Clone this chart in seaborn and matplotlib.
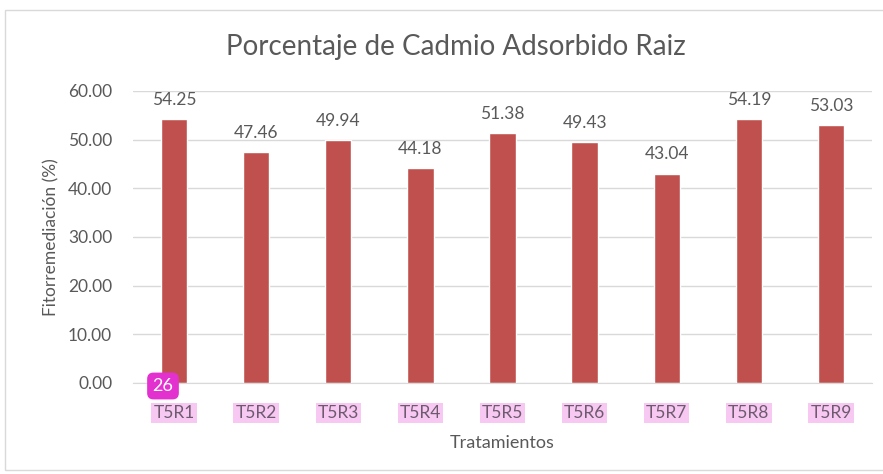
import matplotlib
matplotlib.use('Agg')
import matplotlib.pyplot as plt
import seaborn as sns
import pandas as pd
from matplotlib.patches import Rectangle

tratamientos = ['T5R1', 'T5R2', 'T5R3', 'T5R4', 'T5R5', 'T5R6', 'T5R7', 'T5R8', 'T5R9']
fitorremediacion = [54.25, 47.46, 49.94, 44.18, 51.38, 49.43, 43.04, 54.19, 53.03]

df = pd.DataFrame({'Tratamiento': tratamientos, 'Fito': fitorremediacion})

sns.set_style('white')
plt.rcParams['font.family'] = ['Lato', 'DejaVu Sans']
gray = '#595959'

fig = plt.figure(figsize=(8.83, 4.74), dpi=100)
ax = fig.add_axes([133 / 883, 0.192, 739 / 883, 292 / 474])

sns.barplot(data=df, x='Tratamiento', y='Fito', color='#C0504D', width=0.32,
            saturation=1, ax=ax)

ax.set_ylim(0, 60)
ax.set_yticks(range(0, 61, 10))
ax.set_yticklabels([f'{v:.2f}' for v in range(0, 61, 10)])
ax.yaxis.grid(True, color='#d9d9d9', linewidth=1)
ax.set_axisbelow(True)
for s in ['top', 'right', 'left']:
    ax.spines[s].set_visible(False)
ax.spines['bottom'].set_color('#d9d9d9')
ax.tick_params(axis='both', length=0, labelsize=12.5, colors=gray)
ax.tick_params(axis='y', pad=15)
ax.tick_params(axis='x', pad=16)

# pink highlight behind category labels
for lbl in ax.get_xticklabels():
    lbl.set_color('#6e5a6e')
    lbl.set_bbox(dict(facecolor='#f7c9f2', edgecolor='none', pad=1.5))

for i, v in enumerate(fitorremediacion):
    ax.annotate(f'{v:.2f}', (i, v), xytext=(0, 8), textcoords='offset points',
                ha='center', va='bottom', fontsize=12.5, color=gray)

ax.set_xlabel('Tratamientos', fontsize=13, color=gray, labelpad=10)
ax.set_ylabel('Fitorremediación (%)', fontsize=12.5, color=gray, labelpad=6)

fig.text(456 / 883, 1 - 47 / 474, 'Porcentaje de Cadmio Adsorbido Raiz', ha='center',
         va='center', fontsize=20, color=gray)

# magenta page marker
fig.text(163 / 883, 1 - 386 / 474, '26', ha='center', va='center', fontsize=13,
         color='white',
         bbox=dict(boxstyle='round,pad=0.3,rounding_size=0.35',
                   facecolor='#e331cf', edgecolor='none'))

# chart frame
fig.patches.append(Rectangle((5 / 883, 4 / 474), 1.0, 1 - 14 / 474,
                             transform=fig.transFigure, fill=False,
                             edgecolor='#d9d9d9', linewidth=1))

fig.savefig('out.png', dpi=100)
